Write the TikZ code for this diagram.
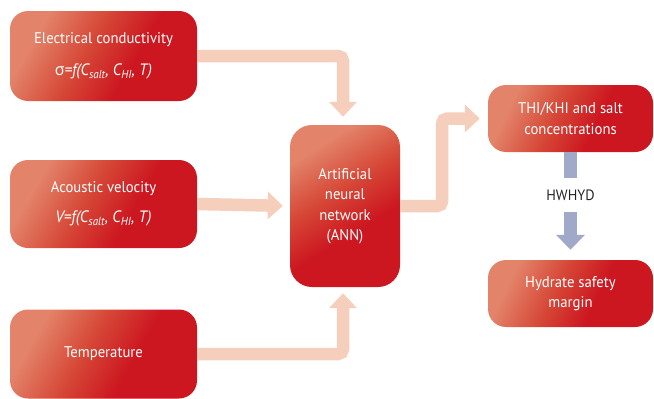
\documentclass[tikz,border=0pt]{standalone}
\usepackage{fontspec}
\setmainfont{PT Sans}[FakeStretch=0.95]
\newfontfamily\grk{Open Sans}[FakeStretch=0.95]
\usetikzlibrary{arrows.meta}
\definecolor{lt}{RGB}{227,132,106}
\definecolor{md}{RGB}{214,72,55}
\definecolor{rd}{RGB}{204,22,32}
\definecolor{peach}{RGB}{245,206,188}
\definecolor{bluegrey}{RGB}{160,170,200}
\definecolor{txtdark}{RGB}{35,35,35}
\pgfdeclarehorizontalshading{redbox}{100bp}{color(0bp)=(lt); color(27bp)=(lt); color(44bp)=(md); color(60bp)=(rd); color(100bp)=(rd)}
\begin{document}
\begin{tikzpicture}[x=1pt,y=-1pt,
  box/.style={shade, shading=redbox, shading angle=-30, rounded corners=18pt,
    text=white, align=center, inner sep=0pt, font=\fontsize{15.5}{20}\selectfont},
  parrow/.style={draw=peach, line width=12.5pt, rounded corners=5pt,
    -{Triangle[width=27pt,length=15pt]}},
  bline/.style={draw=bluegrey, line width=13pt},
  barrow/.style={draw=bluegrey, line width=13pt, -{Triangle[width=28pt,length=15pt]}}]
\useasboundingbox (0,0) rectangle (654,399);
\node[box, minimum width=187pt, minimum height=90pt] (e1) at (103.5,56)
  {Electrical conductivity\\[12pt]{\fontsize{16.5}{20}\selectfont\itshape{\upshape\grk σ}=f(C\textsubscript{salt}, C\textsubscript{HI}, T)}};
\node[box, minimum width=187pt, minimum height=88pt] (e2) at (103.5,204)
  {Acoustic velocity\\[10pt]{\fontsize{16.5}{20}\selectfont\itshape V=f(C\textsubscript{salt}, C\textsubscript{HI}, T)}};
\node[box, minimum width=187pt, minimum height=89pt] (e3) at (103.5,354)
  {Temperature};
\node[box, shading angle=-58, rounded corners=22pt, minimum width=110pt, minimum height=162pt,
  font=\fontsize{15.5}{20.5}\selectfont] (ann) at (345,206)
  {Artificial\\neural\\network\\(ANN)};
\node[box, shading angle=-26, minimum width=165pt, minimum height=67pt,
  font=\fontsize{15.5}{21.5}\selectfont] (thi) at (570.5,118.5)
  {THI/KHI and salt\\concentrations};
\node[box, shading angle=-26, minimum width=165pt, minimum height=67pt,
  font=\fontsize{15.5}{20.5}\selectfont] (hyd) at (570.5,293.5)
  {Hydrate safety\\margin};
\node[text=txtdark, font=\fontsize{15}{17}\selectfont, inner sep=0pt,
  minimum height=34pt] (hw) at (570.5,195) {HWHYD};
\draw[parrow, shorten >=8pt] (e1.east) -| ([xshift=-2pt]ann.north);
\draw[parrow, shorten >=7pt] (e2.east) -- (ann.west);
\draw[parrow, shorten >=6pt] (e3.east) -| ([xshift=-2pt]ann.south);
\draw[parrow, shorten >=8pt] (ann.east) -- ++(42,0) |- (thi.west);
\draw[bline] (thi.south) -- (hw.north);
\draw[barrow, shorten >=10pt] (hw.south) -- (hyd.north);
\end{tikzpicture}
\end{document}
